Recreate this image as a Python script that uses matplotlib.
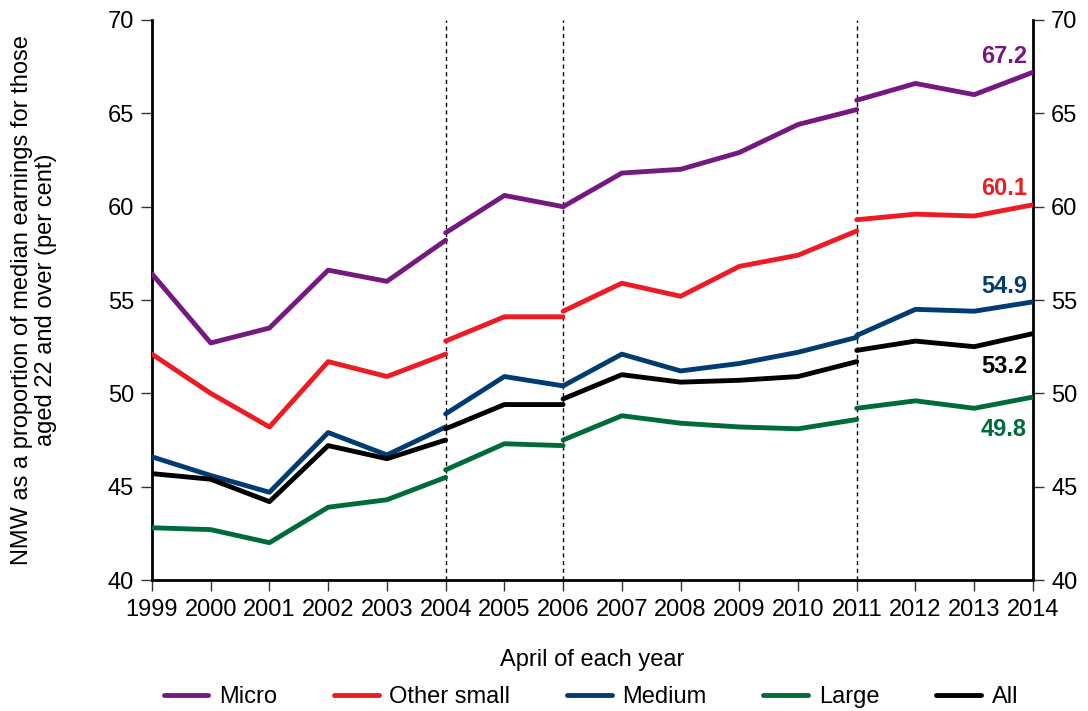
import numpy as np
import matplotlib
matplotlib.use('Agg')
import matplotlib.pyplot as plt

plt.rcParams['font.family'] = ['Liberation Sans', 'DejaVu Sans']

# segments between survey breaks (2004, 2006, 2011)
seg_years = [list(range(1999, 2005)), list(range(2004, 2007)),
             list(range(2006, 2012)), list(range(2011, 2015))]
breaks = [2004, 2006, 2011]

micro = [[56.4, 52.7, 53.5, 56.6, 56.0, 58.2],
         [58.6, 60.6, 60.0],
         [60.0, 61.8, 62.0, 62.9, 64.4, 65.2],
         [65.7, 66.6, 66.0, 67.2]]
other_small = [[52.1, 50.0, 48.2, 51.7, 50.9, 52.1],
               [52.8, 54.1, 54.1],
               [54.4, 55.9, 55.2, 56.8, 57.4, 58.7],
               [59.3, 59.6, 59.5, 60.1]]
medium = [[46.6, 45.6, 44.7, 47.9, 46.7, 48.2],
          [48.9, 50.9, 50.4],
          [50.4, 52.1, 51.2, 51.6, 52.2, 53.0],
          [53.1, 54.5, 54.4, 54.9]]
large = [[42.8, 42.7, 42.0, 43.9, 44.3, 45.5],
         [45.9, 47.3, 47.2],
         [47.5, 48.8, 48.4, 48.2, 48.1, 48.6],
         [49.2, 49.6, 49.2, 49.8]]
all_firms = [[45.7, 45.4, 44.2, 47.2, 46.5, 47.5],
             [48.1, 49.4, 49.4],
             [49.7, 51.0, 50.6, 50.7, 50.9, 51.7],
             [52.3, 52.8, 52.5, 53.2]]

names = ['Micro', 'Other small', 'Medium', 'Large', 'All']
series = [micro, other_small, medium, large, all_firms]
colors = ['#74197f', '#ed1c24', '#003c71', '#006b3a', '#000000']
# end label placement: offset in data units, above/below
label_offset = [0.85, 0.85, 0.85, -1.75, -1.75]

fig = plt.figure(figsize=(10.88, 7.11), dpi=100)
ax = fig.add_axes([0.1397, 0.1842, 0.8097, 0.7877])

for b in breaks:
    ax.axvline(b, color='black', lw=1, ls=(0, (3, 2.5)), zorder=1)

for name, data, c in zip(names, series, colors):
    for i, (yrs, vals) in enumerate(zip(seg_years, data)):
        ax.plot(yrs, vals, color=c, lw=3.5, solid_capstyle='round',
                label=name if i == 0 else None, zorder=3)

for data, c, off in zip(series, colors, label_offset):
    last = data[-1][-1]
    ax.text(2013.9, last + off, f'{last:.1f}', color=c, fontsize=17,
            fontweight='bold', ha='right', va='center')

ax.set_xlim(1999, 2014)
ax.set_ylim(40, 70)
ax.set_xticks(range(1999, 2015))
ax.set_yticks(range(40, 71, 5))
ax.tick_params(axis='both', labelsize=17, length=8, width=1, direction='out', color='#333333')
ax.tick_params(axis='x', pad=6)
ax.tick_params(axis='y', labelright=True, right=True, pad=5)

for s in ['left', 'right', 'bottom']:
    ax.spines[s].set_linewidth(2)
ax.spines['top'].set_visible(False)

ax.set_xlabel('April of each year', fontsize=17, labelpad=20)
ax.set_ylabel('NMW as a proportion of median earnings for those\naged 22 and over (per cent)',
              fontsize=17, linespacing=1.1)
ax.yaxis.set_label_coords(-0.108, 0.5)

fig.legend(loc='center', bbox_to_anchor=(0.543, 0.02), ncol=5, frameon=False,
           fontsize=17, handlelength=1.9, columnspacing=2.4, handletextpad=0.45)

fig.savefig('out.png', dpi=100)
